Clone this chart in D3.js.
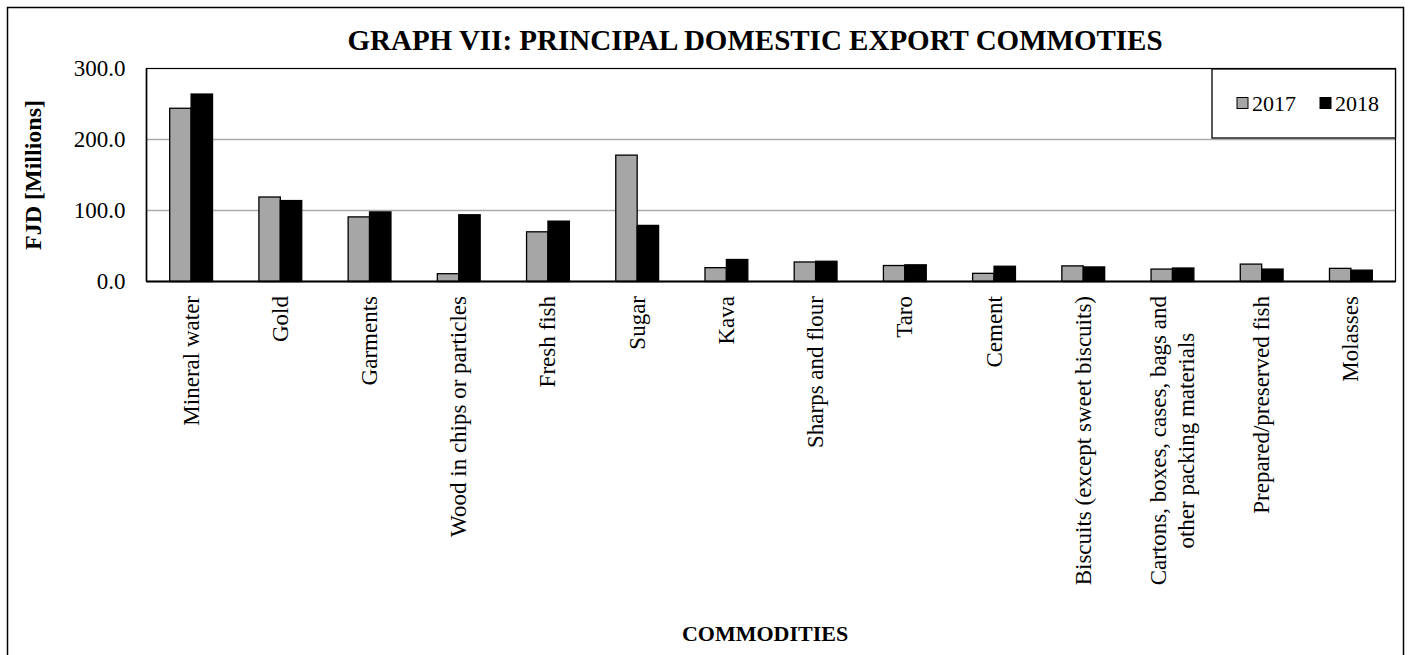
<!DOCTYPE html>
<html>
<head>
<meta charset="utf-8">
<script src="https://cdn.jsdelivr.net/npm/d3@7"></script>
<style>
  html, body { margin: 0; padding: 0; background: #fff; }
  svg { display: block; }
  text { font-family: "Liberation Serif", "Times New Roman", serif; fill: #000; }
</style>
</head>
<body>
<svg id="chart" width="1411" height="655"></svg>
<script>
// Principal domestic export commodities, FJD millions
const categories = [
  "Mineral water", "Gold", "Garments", "Wood in chips or particles", "Fresh fish",
  "Sugar", "Kava", "Sharps and flour", "Taro", "Cement",
  "Biscuits (except sweet biscuits)",
  "Cartons, boxes, cases, bags and\nother packing materials",
  "Prepared/preserved fish", "Molasses"
];
const seriesNames = ["2017", "2018"];
const values2017 = [244, 119, 91, 11, 70, 178, 19.5, 27.5, 22.5, 11.5, 22, 17.5, 24.5, 18.5];
const values2018 = [264, 114, 98, 94, 85, 79, 31, 28.5, 23.5, 21.5, 20.5, 19, 17.5, 16];
const yTicks = [0, 100, 200, 300];

const seriesValues = [values2017, values2018];
const colors = { "2017": "#a6a6a6", "2018": "#000000" };

const svg = d3.select("#chart");
const W = 1411, H = 655;
const plot = { left: 146.5, right: 1395.5, top: 68.5, bottom: 281.5 };

// outer chart frame
svg.append("rect")
  .attr("x", 7.5).attr("y", 7.5)
  .attr("width", 1396).attr("height", 660)
  .attr("fill", "none").attr("stroke", "#000").attr("stroke-width", 1.5);

// title
svg.append("text")
  .attr("x", 755).attr("y", 50)
  .attr("text-anchor", "middle")
  .style("font-size", "29px").style("font-weight", "bold")
  .text("GRAPH VII: PRINCIPAL DOMESTIC EXPORT COMMOTIES");

const x0 = d3.scaleBand().domain(categories).range([plot.left, plot.right]).padding(0);
const bw = x0.bandwidth();
const x1 = d3.scaleBand().domain(seriesNames).range([bw * 0.26, bw * 0.74]).padding(0);
const y = d3.scaleLinear().domain([0, 300]).range([plot.bottom, plot.top]);

// gridlines
svg.append("g")
  .selectAll("line")
  .data(yTicks.filter(t => t > 0 && t < 300))
  .join("line")
  .attr("x1", plot.left).attr("x2", plot.right)
  .attr("y1", d => y(d)).attr("y2", d => y(d))
  .attr("stroke", "#ababab").attr("stroke-width", 1.5);

// y axis tick labels
const yAxis = d3.axisLeft(y).tickValues(yTicks).tickSize(0).tickPadding(21)
  .tickFormat(d3.format(".1f"));
const gy = svg.append("g").attr("transform", `translate(${plot.left},0)`).call(yAxis);
gy.select(".domain").remove();
gy.selectAll("text")
  .style("font-family", '"Liberation Serif", "Times New Roman", serif')
  .style("font-size", "23px").attr("fill", "#000");

// bars
const rows = categories.map((c, i) => ({ cat: c, vals: seriesNames.map((s, k) => ({ s, v: seriesValues[k][i] })) }));
const groups = svg.append("g").selectAll("g")
  .data(rows).join("g")
  .attr("transform", d => `translate(${x0(d.cat)},0)`);
groups.selectAll("rect")
  .data(d => d.vals).join("rect")
  .attr("x", d => x1(d.s))
  .attr("width", x1.bandwidth())
  .attr("y", d => y(d.v))
  .attr("height", d => y(0) - y(d.v))
  .attr("fill", d => colors[d.s])
  .attr("stroke", "#000").attr("stroke-width", 1.3);

// plot area border
svg.append("rect")
  .attr("x", plot.left).attr("y", plot.top)
  .attr("width", plot.right - plot.left).attr("height", plot.bottom - plot.top)
  .attr("fill", "none").attr("stroke", "#000").attr("stroke-width", 1.2);
// x axis line
svg.append("line")
  .attr("x1", plot.left).attr("x2", plot.right)
  .attr("y1", plot.bottom).attr("y2", plot.bottom)
  .attr("stroke", "#000").attr("stroke-width", 2.2);
svg.append("line")
  .attr("x1", plot.left).attr("x2", plot.left)
  .attr("y1", plot.top).attr("y2", plot.bottom)
  .attr("stroke", "#000").attr("stroke-width", 1.6);

// category labels, rotated, top-aligned below the axis, lines centred
const labelTop = 296, lineGap = 28;
const labelG = svg.append("g");
categories.forEach(cat => {
  const lines = cat.split("\n");
  const cx = x0(cat) + bw / 2;
  const texts = lines.map((ln, i) => labelG.append("text")
    .style("font-size", "23px")
    .attr("text-anchor", "middle")
    .attr("dominant-baseline", "central")
    .text(ln));
  const maxLen = d3.max(texts, t => t.node().getComputedTextLength());
  const cy = labelTop + maxLen / 2;
  texts.forEach((t, i) => {
    const dx = (i - (lines.length - 1) / 2) * lineGap;
    t.attr("transform", `translate(${cx + dx},${cy}) rotate(-90)`);
  });
});

// axis titles
svg.append("text")
  .attr("transform", `translate(33,${(plot.top + plot.bottom) / 2}) rotate(-90)`)
  .attr("text-anchor", "middle").attr("dominant-baseline", "central")
  .style("font-size", "24px").style("font-weight", "bold")
  .text("FJD [Millions]");
svg.append("text")
  .attr("x", 765).attr("y", 641)
  .attr("text-anchor", "middle")
  .style("font-size", "22px").style("font-weight", "bold")
  .text("COMMODITIES");

// legend
const lg = svg.append("g");
lg.append("rect")
  .attr("x", 1212).attr("y", 69).attr("width", plot.right - 1212).attr("height", 69)
  .attr("fill", "#fff").attr("stroke", "#000").attr("stroke-width", 1.3);
const legendX = [1237, 1320];
seriesNames.forEach((s, i) => {
  lg.append("rect")
    .attr("x", legendX[i]).attr("y", 97.5).attr("width", 11).attr("height", 11)
    .attr("fill", colors[s]).attr("stroke", "#000").attr("stroke-width", 1);
  lg.append("text")
    .attr("x", legendX[i] + 15).attr("y", 103)
    .attr("dominant-baseline", "central")
    .style("font-size", "22px")
    .text(s);
});
</script>
</body>
</html>
